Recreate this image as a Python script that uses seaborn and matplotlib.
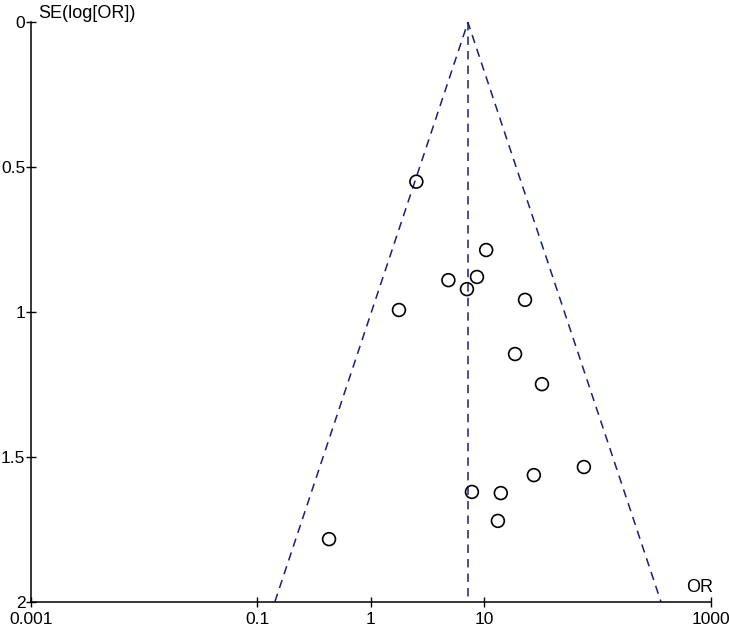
import numpy as np
import pandas as pd
import matplotlib
matplotlib.use("Agg")
import matplotlib.pyplot as plt
import seaborn as sns

# Study data
odds_ratio = [2.52, 10.4, 4.83, 8.63, 7.04, 22.9, 1.77, 18.7, 32.3, 75.7, 27.4, 7.79, 14.0, 13.2, 0.428]
se_log_or = [0.550, 0.786, 0.890, 0.879, 0.921, 0.958, 0.993, 1.145, 1.249, 1.535, 1.563, 1.621, 1.625, 1.721, 1.784]
pooled_or = 7.18

x_ticks = [0.001, 0.1, 1, 10, 1000]
x_tick_labels = ["0.001", "0.1", "1", "10", "1000"]
y_ticks = [0, 0.5, 1, 1.5, 2]
y_tick_labels = ["0", "0.5", "1", "1.5", "2"]

sns.set_theme(style="white")
plt.rcParams["font.family"] = ["Liberation Sans Narrow", "Liberation Sans", "DejaVu Sans"]

fig = plt.figure(figsize=(7.29, 6.34), dpi=100)
ax = fig.add_axes([0.0421, 0.0509, 0.9332, 0.9139])

df = pd.DataFrame({"OR": odds_ratio, "SE": se_log_or})

# Funnel (pseudo 95% confidence limits)
se_max = 2.0
lo = np.exp(np.log(pooled_or) - 1.96 * se_max)
hi = np.exp(np.log(pooled_or) + 1.96 * se_max)
funnel_col = "#1c1c7a"
ax.plot([lo, pooled_or, hi], [se_max, 0, se_max], color=funnel_col, lw=1.1,
        dashes=(5.5, 4), zorder=1)
ax.plot([pooled_or, pooled_or], [0, se_max], color=funnel_col, lw=1.1,
        dashes=(5.5, 4), zorder=1)

sns.scatterplot(data=df, x="OR", y="SE", ax=ax, marker="o", s=85,
                facecolors="none", edgecolor="black", linewidth=1.2, zorder=3)

ax.set_xscale("log")
ax.set_xlim(0.001, 1000)
ax.set_ylim(2, 0)
ax.set_xticks(x_ticks)
ax.set_xticklabels(x_tick_labels)
ax.set_yticks(y_ticks)
ax.set_yticklabels(y_tick_labels)
ax.xaxis.set_minor_locator(matplotlib.ticker.NullLocator())
ax.set_xlabel("")
ax.set_ylabel("")

for s in ["top", "right"]:
    ax.spines[s].set_visible(False)
for s in ["left", "bottom"]:
    ax.spines[s].set_color("black")
    ax.spines[s].set_linewidth(1.1)

ax.tick_params(axis="both", which="major", bottom=True, left=True,
               direction="inout", length=7.5, width=1.0,
               color="black", labelsize=12.5, labelcolor="black")
ax.tick_params(axis="x", pad=3.5)
ax.tick_params(axis="y", pad=0)
for lbl in ax.get_yticklabels():
    lbl.set_verticalalignment("center_baseline")

fig.text(38 / 729, 1 - 13 / 634, "SE(log[OR])", ha="left", va="center",
         fontsize=13, color="black")
fig.text(700 / 729, 1 - 588 / 634, "OR", ha="center", va="center",
         fontsize=13, color="black")

fig.savefig("out.png", dpi=100, facecolor="white")
